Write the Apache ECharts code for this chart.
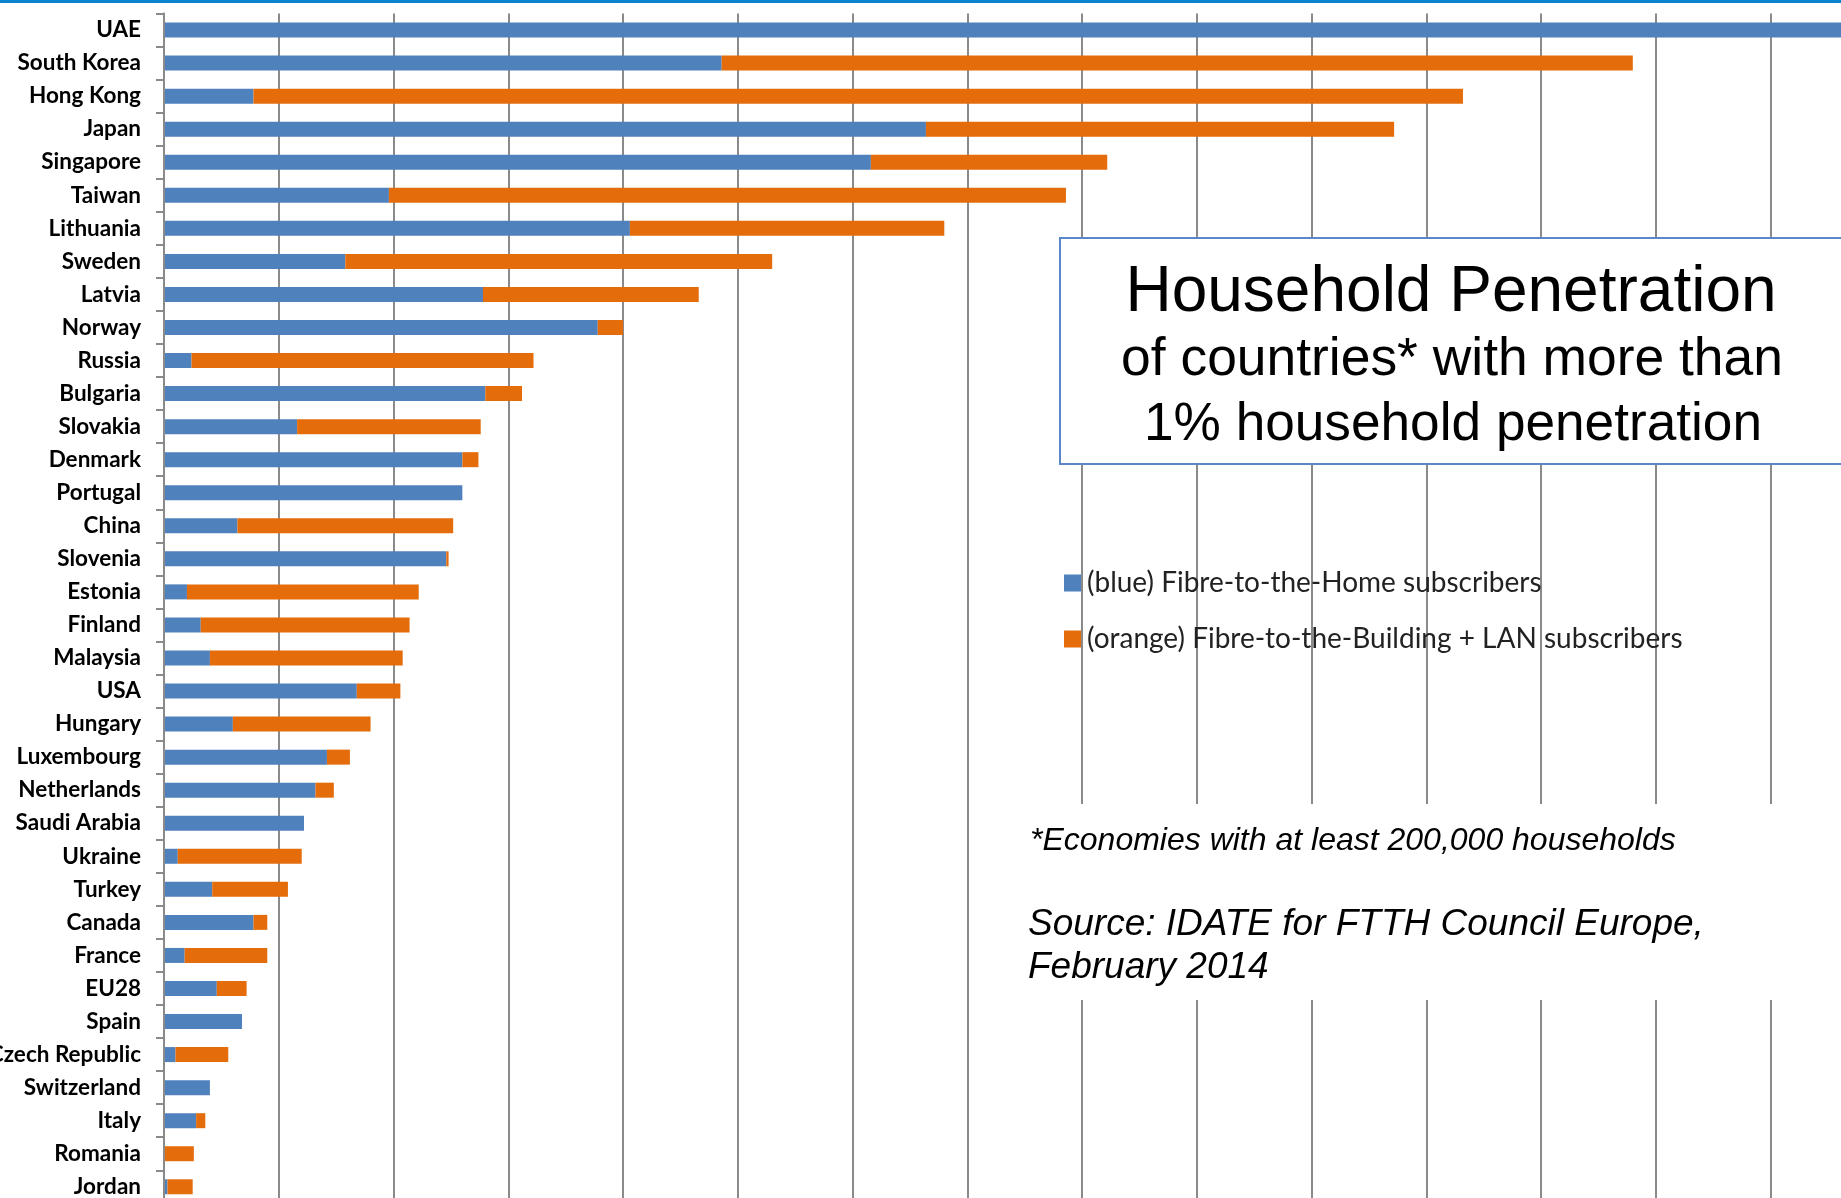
<!DOCTYPE html>
<html>
<head>
<meta charset="utf-8">
<script src="https://cdn.jsdelivr.net/npm/echarts@6/dist/echarts.min.js"></script>
<style>
html,body{margin:0;padding:0;background:#fff;}
#chart{width:1841px;height:1198px;}
</style>
</head>
<body>
<div id="chart"></div>
<script>
const categories = ['UAE','South Korea','Hong Kong','Japan','Singapore','Taiwan','Lithuania','Sweden','Latvia','Norway','Russia','Bulgaria','Slovakia','Denmark','Portugal','China','Slovenia','Estonia','Finland','Malaysia','USA','Hungary','Luxembourg','Netherlands','Saudi Arabia','Ukraine','Turkey','Canada','France','EU28','Spain','Czech Republic','Switzerland','Italy','Romania','Jordan'];
const ftthValues = [75, 24.3, 3.9, 33.2, 30.8, 9.8, 20.3, 7.9, 13.9, 18.9, 1.2, 14.0, 5.8, 13.0, 13.0, 3.2, 12.3, 1.0, 1.6, 2.0, 8.4, 3.0, 7.1, 6.6, 6.1, 0.6, 2.1, 3.9, 0.9, 2.3, 3.4, 0.5, 2.0, 1.4, 0, 0.15];
const fttbValues = [0, 39.7, 52.7, 20.4, 10.3, 29.5, 13.7, 18.6, 9.4, 1.1, 14.9, 1.6, 8.0, 0.7, 0, 9.4, 0.1, 10.1, 9.1, 8.4, 1.9, 6.0, 1.0, 0.8, 0, 5.4, 3.3, 0.6, 3.6, 1.3, 0, 2.3, 0, 0.4, 1.3, 1.1];
const seriesNames = ['(blue) Fibre-to-the-Home subscribers', '(orange) Fibre-to-the-Building + LAN subscribers'];
const titleLines = ['Household Penetration', 'of countries* with more than', '1% household penetration'];
const footnote = '*Economies with at least 200,000 households';
const sourceLines = ['Source: IDATE for FTTH Council Europe,', 'February 2014'];

const chart = echarts.init(document.getElementById('chart'), null, {renderer: 'canvas'});
const gridCol = '#8a8a8a';
const option = {
  backgroundColor: '#ffffff',
  animation: false,
  color: ['#4f81bd', '#e46c0a'],
  grid: {left: 164, right: -44.25, top: 13.5, bottom: -5.3, containLabel: false, outerBoundsMode: 'none'},
  xAxis: {
    type: 'value', min: 0, max: 75, interval: 5,
    axisLabel: {show: false}, axisLine: {show: false}, axisTick: {show: false},
    splitLine: {show: true, lineStyle: {color: gridCol, width: 2}}
  },
  yAxis: {
    type: 'category', inverse: true, data: categories,
    axisLine: {show: true, lineStyle: {color: gridCol, width: 2}},
    axisTick: {show: true, length: 8, lineStyle: {color: gridCol, width: 2}},
    axisLabel: {margin: 23, fontFamily: 'Lato', fontWeight: 'bold', fontSize: 22.5, color: '#000'},
    z: 3
  },
  legend: {
    orient: 'vertical', left: 1059, top: 564, itemWidth: 17, itemHeight: 17, itemGap: 28,
    icon: 'rect', selectedMode: false,
    textStyle: {fontFamily: 'Lato', fontSize: 28, lineHeight: 28, color: '#222', padding: [0,0,0,1]},
    data: seriesNames
  },
  series: [
    {name: seriesNames[0], type: 'bar', stack: 'total', barWidth: 15, data: ftthValues},
    {name: seriesNames[1], type: 'bar', stack: 'total', barWidth: 15, data: fttbValues}
  ],
  graphic: [
    {type: 'rect', z: 100, shape: {x: 0, y: 0, width: 1841, height: 3}, style: {fill: '#0b84cf'}},
    {type: 'rect', z: 100, shape: {x: 1060, y: 238, width: 900, height: 226}, style: {fill: '#fff', stroke: '#5b87c6', lineWidth: 2}},
    {type: 'text', z: 101, x: 1451, y: 293, style: {text: titleLines[0], fontFamily: 'Liberation Sans, Arial', fontSize: 64, fill: '#000', align: 'center', verticalAlign: 'middle'}},
    {type: 'text', z: 101, x: 1452, y: 360, style: {text: titleLines[1], fontFamily: 'Liberation Sans, Arial', fontSize: 53.4, fill: '#000', align: 'center', verticalAlign: 'middle'}},
    {type: 'text', z: 101, x: 1453, y: 425, style: {text: titleLines[2], fontFamily: 'Liberation Sans, Arial', fontSize: 53.2, fill: '#000', align: 'center', verticalAlign: 'middle'}},
    {type: 'rect', z: 100, shape: {x: 1022, y: 804, width: 900, height: 196}, style: {fill: '#fff'}},
    {type: 'text', z: 101, x: 1030, y: 841, style: {text: footnote, fontFamily: 'Liberation Sans, Arial', fontStyle: 'italic', fontSize: 32, fill: '#000', align: 'left', verticalAlign: 'middle'}},
    {type: 'text', z: 101, x: 1028, y: 925, style: {text: sourceLines[0], fontFamily: 'Liberation Sans, Arial', fontStyle: 'italic', fontSize: 37, fill: '#000', align: 'left', verticalAlign: 'middle'}},
    {type: 'text', z: 101, x: 1028, y: 968, style: {text: sourceLines[1], fontFamily: 'Liberation Sans, Arial', fontStyle: 'italic', fontSize: 37, fill: '#000', align: 'left', verticalAlign: 'middle'}}
  ]
};
chart.setOption(option);
</script>
</body>
</html>
